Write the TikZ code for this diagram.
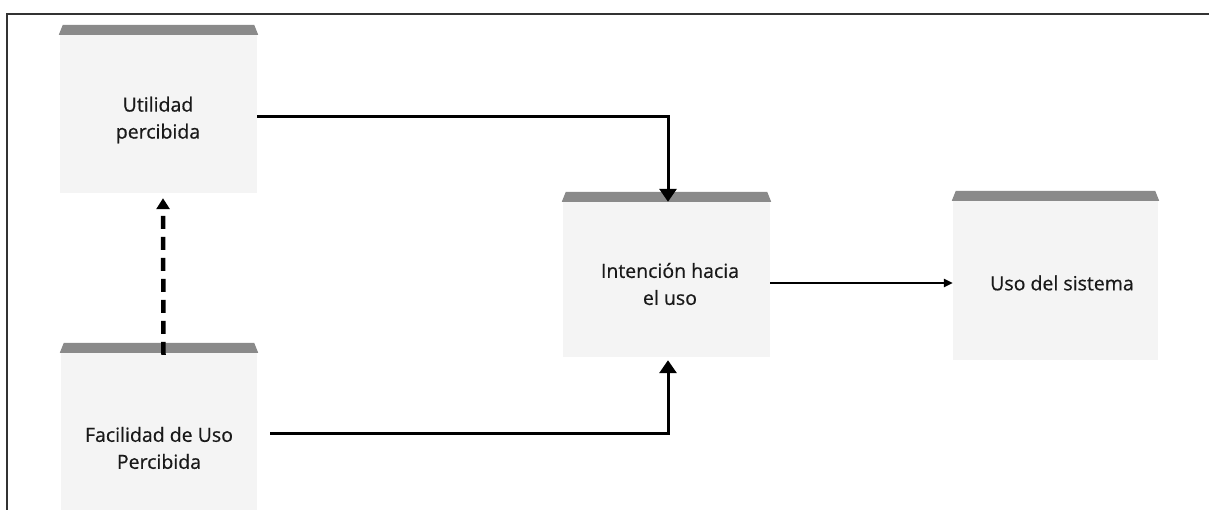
\documentclass[tikz,border=0pt]{standalone}
\usepackage{fontspec}
\setmainfont{Open Sans}
\newfontfamily\lblfont[FakeBold=0.6]{Open Sans}
\usetikzlibrary{arrows.meta}
\definecolor{bodyfill}{HTML}{F4F4F4}
\definecolor{barfill}{HTML}{8A8A8A}
\definecolor{framec}{HTML}{333333}
\tikzset{
  body/.style={rectangle, fill=bodyfill, draw=none, inner sep=0pt},
  lbl/.style={align=center, font=\lblfont\fontsize{19.5}{27}\selectfont, text=black!90, inner sep=0pt},
  conn/.style={line width=3pt, draw=black},
  bigtip/.style={-{Triangle[width=17pt,length=13pt]}},
  smalltip/.style={-{Triangle[width=8pt,length=9pt]}},
}
\newcommand{\topbar}[1]{%
  \fill[barfill] ([xshift=-1pt]#1.north west) -- ([xshift=1pt]#1.north east)
    -- ([xshift=-3pt,yshift=10pt]#1.north east) -- ([xshift=3pt,yshift=10pt]#1.north west) -- cycle;}
\begin{document}
\begin{tikzpicture}[x=1pt,y=-1pt]
\useasboundingbox (0,0) rectangle (1209,510);
% frame
\coordinate (fA) at (7,511);
\coordinate (fB) at (7,14);
\coordinate (fC) at (1210,14);
\draw[framec, line width=2pt] (fA) -- (fB) -- (fC);
% bodies
\node[body, minimum width=197pt, minimum height=158pt] (U) at (158.5,114) {};
\node[body, minimum width=196pt, minimum height=160pt] (F) at (159,433) {};
\node[body, minimum width=207pt, minimum height=155pt] (I) at (666.5,279.5) {};
\node[body, minimum width=205pt, minimum height=159pt] (S) at (1055.5,280.5) {};
\topbar{U}
\topbar{F}
\topbar{I}
\topbar{S}
% labels
\node[lbl] (Ut) at (158,120) {Utilidad\\percibida};
\node[lbl] (Ft) at (159,448) {Facilidad de Uso\\Percibida};
\node[lbl] (It) at (670,284) {Intención hacia\\el uso};
\node[lbl] (St) at (1062,283) {Uso del sistema};
% connectors
\draw[conn, bigtip] ([yshift=-3pt]U.east) -| ([xshift=1.5pt]I.north);
\draw[conn, bigtip] ([xshift=13pt]F.east) -| ([xshift=1.5pt,yshift=-3pt]I.south);
\draw[conn, smalltip, line width=2.4pt] ([yshift=-3.5pt]I.east) -- ([yshift=-2.5pt]S.west);
\draw[line width=4.5pt, dash pattern=on 13pt off 8pt, -{Triangle[width=13pt,length=11pt]}]
  ([xshift=4.5pt,yshift=-2pt]F.north) -- ([xshift=4.5pt,yshift=-5pt]U.south);
\end{tikzpicture}
\end{document}
